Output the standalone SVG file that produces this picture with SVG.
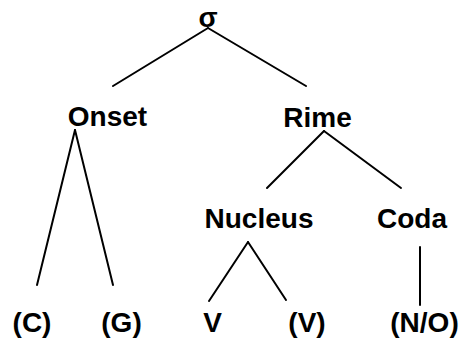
<svg xmlns="http://www.w3.org/2000/svg" width="468" height="340" viewBox="0 0 468 340">
<style>
text{font-family:"Liberation Sans",Arial,sans-serif;font-weight:bold;font-size:28px;fill:#000;text-anchor:middle}
.e line{stroke:#000;stroke-width:2;stroke-linecap:round}
</style>
<rect width="468" height="340" fill="#fff"/>
<g class="e" id="connectors">
<line x1="208" y1="28" x2="113" y2="86"/>
<line x1="208" y1="28" x2="306" y2="86"/>
<line x1="75" y1="130" x2="37" y2="285"/>
<line x1="75" y1="130" x2="113" y2="285"/>
<line x1="324" y1="131" x2="267" y2="188"/>
<line x1="324" y1="131" x2="401" y2="188"/>
<line x1="248" y1="242" x2="209" y2="301"/>
<line x1="248" y1="242" x2="286" y2="300"/>
<line x1="420" y1="247" x2="420" y2="305"/>
</g>
<g id="sigma"><text x="208" y="27">σ</text></g>
<g id="onset"><text x="107.5" y="126">Onset</text></g>
<g id="rime"><text x="317.5" y="127">Rime</text></g>
<g id="nucleus"><text x="259" y="228">Nucleus</text></g>
<g id="coda"><text x="412" y="228">Coda</text></g>
<g id="c"><text x="32" y="332">(C)</text></g>
<g id="g"><text x="121.5" y="332">(G)</text></g>
<g id="v1"><text x="212.5" y="332">V</text></g>
<g id="v2"><text x="307" y="332">(V)</text></g>
<g id="no"><text x="424.5" y="332">(N/O)</text></g>
</svg>
